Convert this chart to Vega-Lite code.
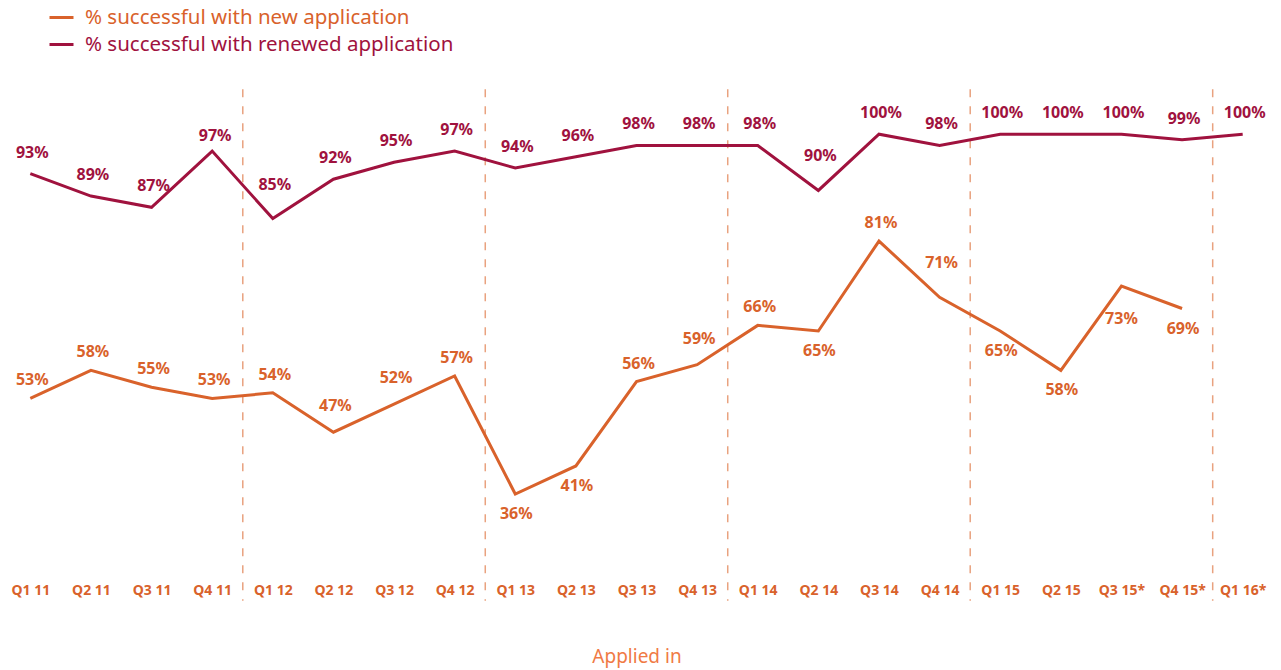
{
  "$schema": "https://vega.github.io/schema/vega-lite/v6.json",
  "width": 1273,
  "height": 506,
  "autosize": {"type": "none"},
  "padding": {"left": 0, "top": 78, "right": 8, "bottom": 86},
  "background": "white",
  "config": {"view": {"stroke": null}, "font": "Noto Sans"},
  "datasets": {
    "main": [
      {"q": "Q1 11", "series": "% successful with new application", "value": 0.53},
      {"q": "Q2 11", "series": "% successful with new application", "value": 0.58},
      {"q": "Q3 11", "series": "% successful with new application", "value": 0.55},
      {"q": "Q4 11", "series": "% successful with new application", "value": 0.53},
      {"q": "Q1 12", "series": "% successful with new application", "value": 0.54},
      {"q": "Q2 12", "series": "% successful with new application", "value": 0.47},
      {"q": "Q3 12", "series": "% successful with new application", "value": 0.52},
      {"q": "Q4 12", "series": "% successful with new application", "value": 0.57},
      {"q": "Q1 13", "series": "% successful with new application", "value": 0.36},
      {"q": "Q2 13", "series": "% successful with new application", "value": 0.41},
      {"q": "Q3 13", "series": "% successful with new application", "value": 0.56},
      {"q": "Q4 13", "series": "% successful with new application", "value": 0.59},
      {"q": "Q1 14", "series": "% successful with new application", "value": 0.66},
      {"q": "Q2 14", "series": "% successful with new application", "value": 0.65},
      {"q": "Q3 14", "series": "% successful with new application", "value": 0.81},
      {"q": "Q4 14", "series": "% successful with new application", "value": 0.71},
      {"q": "Q1 15", "series": "% successful with new application", "value": 0.65},
      {"q": "Q2 15", "series": "% successful with new application", "value": 0.58},
      {"q": "Q3 15*", "series": "% successful with new application", "value": 0.73},
      {"q": "Q4 15*", "series": "% successful with new application", "value": 0.69},
      {"q": "Q1 11", "series": "% successful with renewed application", "value": 0.93},
      {"q": "Q2 11", "series": "% successful with renewed application", "value": 0.89},
      {"q": "Q3 11", "series": "% successful with renewed application", "value": 0.87},
      {"q": "Q4 11", "series": "% successful with renewed application", "value": 0.97},
      {"q": "Q1 12", "series": "% successful with renewed application", "value": 0.85},
      {"q": "Q2 12", "series": "% successful with renewed application", "value": 0.92},
      {"q": "Q3 12", "series": "% successful with renewed application", "value": 0.95},
      {"q": "Q4 12", "series": "% successful with renewed application", "value": 0.97},
      {"q": "Q1 13", "series": "% successful with renewed application", "value": 0.94},
      {"q": "Q2 13", "series": "% successful with renewed application", "value": 0.96},
      {"q": "Q3 13", "series": "% successful with renewed application", "value": 0.98},
      {"q": "Q4 13", "series": "% successful with renewed application", "value": 0.98},
      {"q": "Q1 14", "series": "% successful with renewed application", "value": 0.98},
      {"q": "Q2 14", "series": "% successful with renewed application", "value": 0.90},
      {"q": "Q3 14", "series": "% successful with renewed application", "value": 1.00},
      {"q": "Q4 14", "series": "% successful with renewed application", "value": 0.98},
      {"q": "Q1 15", "series": "% successful with renewed application", "value": 1.00},
      {"q": "Q2 15", "series": "% successful with renewed application", "value": 1.00},
      {"q": "Q3 15*", "series": "% successful with renewed application", "value": 1.00},
      {"q": "Q4 15*", "series": "% successful with renewed application", "value": 0.99},
      {"q": "Q1 16*", "series": "% successful with renewed application", "value": 1.00}
    ],
    "yearStarts": [
      {"q": "Q1 12"}, {"q": "Q1 13"}, {"q": "Q1 14"}, {"q": "Q1 15"}, {"q": "Q1 16*"}
    ]
  },
  "encoding": {
    "x": {
      "field": "q",
      "type": "ordinal",
      "scale": {
        "type": "point",
        "padding": 0.5,
        "domain": ["Q1 11","Q2 11","Q3 11","Q4 11","Q1 12","Q2 12","Q3 12","Q4 12","Q1 13","Q2 13","Q3 13","Q4 13","Q1 14","Q2 14","Q3 14","Q4 14","Q1 15","Q2 15","Q3 15*","Q4 15*","Q1 16*"]
      },
      "axis": {
        "title": "Applied in",
        "titleColor": "#F07A45",
        "titleFont": "Noto Sans",
        "titleFontSize": 19,
        "titleFontWeight": "normal",
        "titlePadding": 50,
        "labelAngle": 0,
        "labelColor": "#D9622B",
        "labelFont": "Noto Sans",
        "labelFontSize": 14,
        "labelFontWeight": "bold",
        "labelPadding": -1,
        "ticks": false,
        "tickSize": 0,
        "domain": false,
        "grid": false
      }
    }
  },
  "layer": [
    {
      "data": {"name": "yearStarts"},
      "mark": {"type": "rule", "xOffset": -30, "stroke": "#E9A27F", "strokeWidth": 1.5, "strokeDash": [8, 9]},
      "encoding": {
        "y": {"datum": 1.08, "type": "quantitative", "scale": {"domain": [0.2, 1.1]}, "axis": null},
        "y2": {"datum": 0.17}
      }
    },
    {
      "data": {"name": "main"},
      "mark": {"type": "line", "strokeWidth": 3},
      "encoding": {
        "y": {"field": "value", "type": "quantitative", "scale": {"domain": [0.2, 1.1]}, "axis": null},
        "color": {
          "field": "series",
          "type": "nominal",
          "scale": {
            "domain": ["% successful with new application", "% successful with renewed application"],
            "range": ["#D9622B", "#A0123E"]
          },
          "legend": {
            "title": null,
            "orient": "none",
            "legendX": 48,
            "legendY": -74,
            "symbolType": "stroke",
            "symbolSize": 576,
            "symbolStrokeWidth": 3,
            "labelFont": "Noto Sans",
            "labelFontSize": 20.5,
            "labelLimit": 0,
            "labelOffset": 10,
            "rowPadding": 3,
            "encode": {"labels": {"update": {"fill": {"scale": "color", "field": "value"}}}}
          }
        }
      }
    },
    {
      "data": {"name": "main"},
      "transform": [{"filter": {"and": [
        {"field": "series", "equal": "% successful with renewed application"},
        {"not": {"field": "q", "oneOf": ["Q4 11", "Q1 12", "Q2 14"]}}
      ]}}],
      "mark": {"type": "text", "dy": -21, "dx": 2, "fontSize": 16, "fontWeight": "bold", "font": "Noto Sans"},
      "encoding": {
        "y": {"field": "value", "type": "quantitative"},
        "text": {"field": "value", "type": "quantitative", "format": ".0%"},
        "color": {"field": "series", "type": "nominal"}
      }
    },
    {
      "data": {"name": "main"},
      "transform": [{"filter": {"and": [
        {"field": "series", "equal": "% successful with renewed application"},
        {"field": "q", "equal": "Q4 11"}
      ]}}],
      "mark": {"type": "text", "dy": -15, "dx": 3, "fontSize": 16, "fontWeight": "bold", "font": "Noto Sans"},
      "encoding": {
        "y": {"field": "value", "type": "quantitative"},
        "text": {"field": "value", "type": "quantitative", "format": ".0%"},
        "color": {"field": "series", "type": "nominal"}
      }
    },
    {
      "data": {"name": "main"},
      "transform": [{"filter": {"or": [
        {"and": [
          {"field": "series", "equal": "% successful with renewed application"},
          {"field": "q", "oneOf": ["Q1 12", "Q2 14"]}
        ]},
        {"and": [
          {"field": "series", "equal": "% successful with new application"},
          {"field": "q", "equal": "Q4 14"}
        ]}
      ]}}],
      "mark": {"type": "text", "dy": -34, "dx": 2, "fontSize": 16, "fontWeight": "bold", "font": "Noto Sans"},
      "encoding": {
        "y": {"field": "value", "type": "quantitative"},
        "text": {"field": "value", "type": "quantitative", "format": ".0%"},
        "color": {"field": "series", "type": "nominal"}
      }
    },
    {
      "data": {"name": "main"},
      "transform": [{"filter": {"and": [
        {"field": "series", "equal": "% successful with new application"},
        {"field": "q", "oneOf": ["Q1 11","Q2 11","Q3 11","Q4 11","Q1 12","Q4 12","Q3 13","Q1 14","Q3 14"]}
      ]}}],
      "mark": {"type": "text", "dy": -18, "dx": 2, "fontSize": 16, "fontWeight": "bold", "font": "Noto Sans"},
      "encoding": {
        "y": {"field": "value", "type": "quantitative"},
        "text": {"field": "value", "type": "quantitative", "format": ".0%"},
        "color": {"field": "series", "type": "nominal"}
      }
    },
    {
      "data": {"name": "main"},
      "transform": [{"filter": {"and": [
        {"field": "series", "equal": "% successful with new application"},
        {"field": "q", "oneOf": ["Q2 12","Q3 12","Q4 13"]}
      ]}}],
      "mark": {"type": "text", "dy": -26, "dx": 2, "fontSize": 16, "fontWeight": "bold", "font": "Noto Sans"},
      "encoding": {
        "y": {"field": "value", "type": "quantitative"},
        "text": {"field": "value", "type": "quantitative", "format": ".0%"},
        "color": {"field": "series", "type": "nominal"}
      }
    },
    {
      "data": {"name": "main"},
      "transform": [{"filter": {"and": [
        {"field": "series", "equal": "% successful with new application"},
        {"field": "q", "oneOf": ["Q1 13","Q2 13","Q2 14","Q1 15","Q2 15","Q4 15*"]}
      ]}}],
      "mark": {"type": "text", "dy": 20, "dx": 1, "fontSize": 16, "fontWeight": "bold", "font": "Noto Sans"},
      "encoding": {
        "y": {"field": "value", "type": "quantitative"},
        "text": {"field": "value", "type": "quantitative", "format": ".0%"},
        "color": {"field": "series", "type": "nominal"}
      }
    },
    {
      "data": {"name": "main"},
      "transform": [{"filter": {"and": [
        {"field": "series", "equal": "% successful with new application"},
        {"field": "q", "equal": "Q3 15*"}
      ]}}],
      "mark": {"type": "text", "dy": 33, "dx": 0, "fontSize": 16, "fontWeight": "bold", "font": "Noto Sans"},
      "encoding": {
        "y": {"field": "value", "type": "quantitative"},
        "text": {"field": "value", "type": "quantitative", "format": ".0%"},
        "color": {"field": "series", "type": "nominal"}
      }
    }
  ]
}
